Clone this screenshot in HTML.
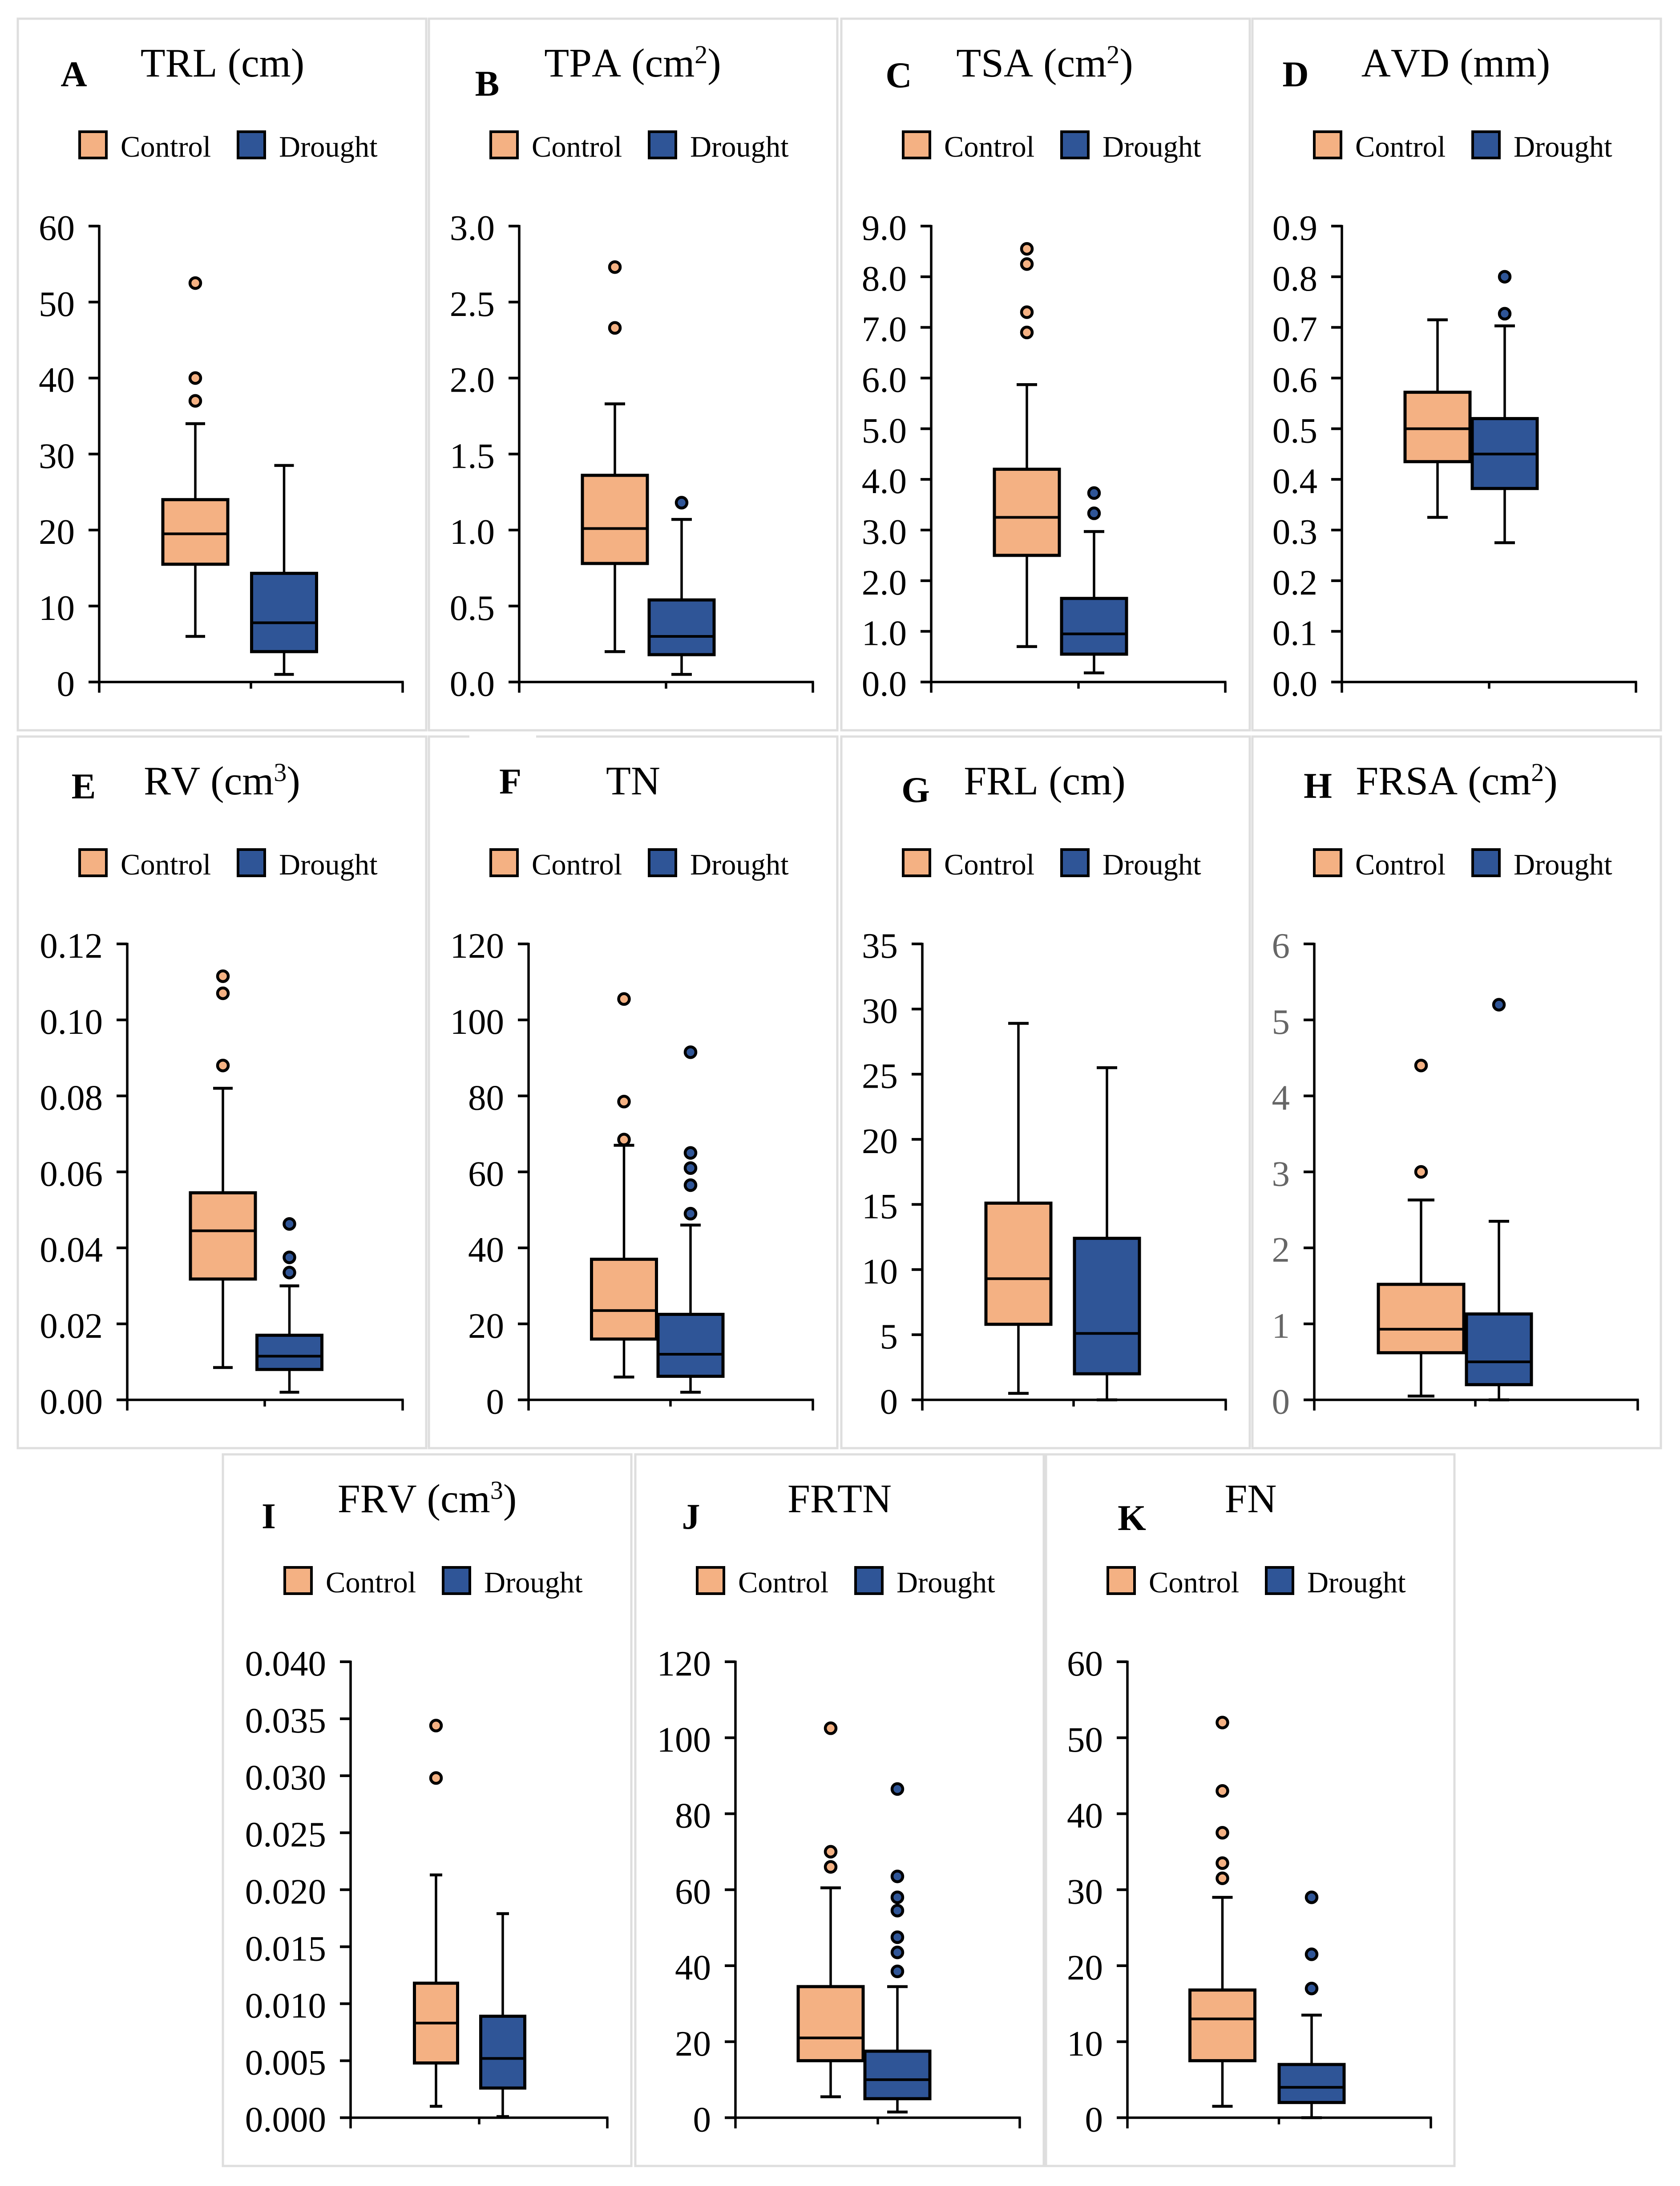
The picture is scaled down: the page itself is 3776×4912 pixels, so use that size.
<!DOCTYPE html>
<html>
<head>
<meta charset="utf-8">
<title>Root traits boxplots</title>
<style>
html,body{margin:0;padding:0;background:#fff;}
svg{display:block;font-family:"Liberation Serif",serif;font-kerning:none;}
.t{font-size:91.5px;text-anchor:middle;fill:#000;}
.l{font-size:82px;font-weight:bold;text-anchor:middle;fill:#000;}
.s{font-size:58px;}
</style>
</head>
<body>
<svg id="chart" width="3776" height="4912" viewBox="0 0 3776 4912" xmlns="http://www.w3.org/2000/svg">
<g id="frames"></g>
<rect x="1055" y="1650" width="150" height="10" fill="#fff"></rect>
<g>
<text class="t" x="500" y="172">TRL (cm)</text>
<text class="t" x="1422" y="172">TPA (cm<tspan class="s" dy="-30">2</tspan><tspan dy="30">)</tspan></text>
<text class="t" x="2348" y="172">TSA (cm<tspan class="s" dy="-30">2</tspan><tspan dy="30">)</tspan></text>
<text class="t" x="3272" y="172">AVD (mm)</text>
<text class="t" x="499" y="1785">RV (cm<tspan class="s" dy="-30">3</tspan><tspan dy="30">)</tspan></text>
<text class="t" x="1423" y="1785">TN</text>
<text class="t" x="2348" y="1785">FRL (cm)</text>
<text class="t" x="3274" y="1785">FRSA (cm<tspan class="s" dy="-30">2</tspan><tspan dy="30">)</tspan></text>
<text class="t" x="960" y="3398">FRV (cm<tspan class="s" dy="-30">3</tspan><tspan dy="30">)</tspan></text>
<text class="t" x="1887" y="3398">FRTN</text>
<text class="t" x="2811" y="3398">FN</text>
</g>
<g>
<text class="l" x="166" y="194">A</text>
<text class="l" x="1095" y="215">B</text>
<text class="l" x="2020" y="196">C</text>
<text class="l" x="2912" y="194">D</text>
<text class="l" x="188" y="1794">E</text>
<text class="l" x="1147" y="1783">F</text>
<text class="l" x="2058" y="1802">G</text>
<text class="l" x="2962" y="1793">H</text>
<text class="l" x="604" y="3434">I</text>
<text class="l" x="1553" y="3435">J</text>
<text class="l" x="2544" y="3438">K</text>
</g>
<g id="plots"></g>
</svg>
<script>
// ---------- data ----------
const categories = ['Control', 'Drought'];
const panelIds = ['a','b','c','d','e','f','g','h','i','j','k'];
const axisMax = [60, 3, 9, 0.9, 0.12, 120, 35, 6, 0.04, 120, 60];
const tickLabels = [
  ['0','10','20','30','40','50','60'],
  ['0.0','0.5','1.0','1.5','2.0','2.5','3.0'],
  ['0.0','1.0','2.0','3.0','4.0','5.0','6.0','7.0','8.0','9.0'],
  ['0.0','0.1','0.2','0.3','0.4','0.5','0.6','0.7','0.8','0.9'],
  ['0.00','0.02','0.04','0.06','0.08','0.10','0.12'],
  ['0','20','40','60','80','100','120'],
  ['0','5','10','15','20','25','30','35'],
  ['0','1','2','3','4','5','6'],
  ['0.000','0.005','0.010','0.015','0.020','0.025','0.030','0.035','0.040'],
  ['0','20','40','60','80','100','120'],
  ['0','10','20','30','40','50','60']
];
const whiskerLowControl  = [6, 0.2, 0.7, 0.325, 0.0085, 6, 0.5, 0.05, 0.001, 5.5, 1.5];
const q1Control          = [15.5, 0.78, 2.5, 0.435, 0.0318, 16, 5.8, 0.62, 0.0048, 15, 7.5];
const medianControl      = [19.5, 1.01, 3.25, 0.5, 0.0445, 23.5, 9.3, 0.93, 0.0083, 21, 13];
const q3Control          = [24, 1.36, 4.2, 0.572, 0.0545, 37, 15.1, 1.52, 0.0118, 34.5, 16.8];
const whiskerHighControl = [34, 1.83, 5.87, 0.715, 0.082, 67, 28.9, 2.63, 0.0213, 60.5, 29];
const outliersControl = [
  [37, 40, 52.5], [2.33, 2.73], [6.9, 7.3, 8.25, 8.55], [],
  [0.088, 0.107, 0.1115], [68.5, 78.5, 105.5], [], [3, 4.4],
  [0.0298, 0.0344], [66, 70, 102.5], [31.5, 33.5, 37.5, 43, 52]
];
const whiskerLowDrought  = [1, 0.05, 0.18, 0.275, 0.002, 2, 0, 0, 0.0001, 1.5, 0];
const q1Drought          = [4, 0.18, 0.55, 0.382, 0.008, 6.2, 2, 0.2, 0.0026, 5, 2];
const medianDrought      = [7.8, 0.3, 0.95, 0.45, 0.0115, 12, 5.1, 0.5, 0.0052, 10, 4];
const q3Drought          = [14.3, 0.54, 1.65, 0.52, 0.017, 22.5, 12.4, 1.13, 0.0089, 17.5, 7];
const whiskerHighDrought = [28.5, 1.07, 2.97, 0.703, 0.03, 46, 25.5, 2.35, 0.0179, 34.5, 13.5];
const outliersDrought = [
  [], [1.18], [3.33, 3.73], [0.727, 0.8],
  [0.0335, 0.0375, 0.0463], [49, 56.5, 61, 65, 91.5], [], [5.2],
  [], [38.5, 43.5, 47.5, 54.5, 58, 63.5, 86.5], [17, 21.5, 29]
];

// ---------- layout (pixels; not data) ----------
const layout = [
  {fx:40,  fy:42,   ax:223,  rx:905,  mid:564,  cx:[439,638.5],  w:[146,146], cap:[22,22], gray:false},
  {fx:964, fy:42,   ax:1167, rx:1827, mid:1497, cx:[1382,1532],  w:[146,146], cap:[23,23], gray:false},
  {fx:1891,fy:42,   ax:2093, rx:2754, mid:2424, cx:[2308,2459],  w:[146,146], cap:[23,23], gray:false},
  {fx:2815,fy:42,   ax:3016, rx:3677, mid:3347, cx:[3231,3382],  w:[146,146], cap:[23,23], gray:false},
  {fx:40,  fy:1655, ax:286,  rx:905,  mid:595,  cx:[501,650.5],  w:[146,146], cap:[22,22], gray:false},
  {fx:964, fy:1655, ax:1188, rx:1827, mid:1507, cx:[1402.5,1552],w:[146,146], cap:[23,23], gray:false},
  {fx:1891,fy:1655, ax:2073, rx:2755, mid:2413, cx:[2289,2488],  w:[146,146], cap:[23,23], gray:false},
  {fx:2815,fy:1655, ax:2954, rx:3681, mid:3316, cx:[3194,3369],  w:[192,146], cap:[30,23], gray:true},
  {fx:501, fy:3268, ax:788,  rx:1365, mid:1077, cx:[980,1130],   w:[97,99],   cap:[14,14], gray:false},
  {fx:1428,fy:3268, ax:1653, rx:2292, mid:1973, cx:[1867,2017],  w:[146,146], cap:[23,23], gray:false},
  {fx:2351,fy:3268, ax:2534, rx:3216, mid:2874.5, cx:[2747.5,2948], w:[146,146], cap:[23,23], gray:false}
];
const PANEL_W = 918, PANEL_H = 1599, AXIS_TOP = 466, AXIS_BOTTOM = 1490.5;
const fillColors = ['#F4B183', '#2F5597'];
const NS = 'http://www.w3.org/2000/svg';

function make(parent, tag, attrs) {
  const el = document.createElementNS(NS, tag);
  for (const k in attrs) el.setAttribute(k, attrs[k]);
  parent.appendChild(el);
  return el;
}
function hLine(parent, x1, x2, y, sw) {
  return make(parent, 'line', {x1: x1, x2: x2, y1: y, y2: y, stroke: '#000', 'stroke-width': sw});
}
function vLine(parent, x, y1, y2, sw) {
  return make(parent, 'line', {x1: x, x2: x, y1: y1, y2: y2, stroke: '#000', 'stroke-width': sw});
}

const frames = document.getElementById('frames');
const plots = document.getElementById('plots');

panelIds.forEach(function (id, p) {
  const L = layout[p];
  const frame = make(frames, 'rect', {x: L.fx, y: L.fy, width: PANEL_W, height: PANEL_H, fill: '#fff', stroke: '#dedede', 'stroke-width': 5});
  
  

  const g = make(plots, 'g', {});
  
  

  // axis functions
  const top = L.fy + AXIS_TOP, bottom = L.fy + AXIS_BOTTOM;
  const yScale = function (v) { return bottom - (v / axisMax[p]) * (bottom - top); };

  // legend
  const swatchOffsets = [139, 495];
  const labelOffsets = [231, 587];
  categories.forEach(function (name, c) {
    const sw = make(g, 'rect', {x: L.fx + swatchOffsets[c], y: L.fy + 254, width: 60, height: 59, fill: fillColors[c], stroke: '#000', 'stroke-width': 6});
    
    
    const tx = make(g, 'text', {x: L.fx + labelOffsets[c], y: L.fy + 310, 'font-size': 66.5, fill: '#000'});
    tx.textContent = name;
    
    
  });

  // axes
  const axes = make(g, 'g', {});
  
  
  const yAxis = vLine(axes, L.ax, top - 2.5, bottom + 24, 5.5);
  
  
  const xAxis = hLine(axes, L.ax - 24, L.rx + 2.5, bottom, 5.5);
  
  
  const xEnd = vLine(axes, L.rx, bottom, bottom + 24, 5.5);
  
  
  const xMid = vLine(axes, L.mid, bottom, bottom + 15, 5.5);
  
  

  const labels = tickLabels[p];
  labels.forEach(function (lab) {
    const val = parseFloat(lab);
    const y = yScale(val);
    const tick = hLine(axes, L.ax - 24, L.ax, y, 6);
    
    
    const t = make(axes, 'text', {x: L.ax - 55, y: y + 31, 'font-size': 81, 'text-anchor': 'end', fill: L.gray ? '#666' : '#000'});
    t.textContent = lab;
    
    
  });

  // boxes
  const stats = [
    [whiskerLowControl[p], q1Control[p], medianControl[p], q3Control[p], whiskerHighControl[p], outliersControl[p]],
    [whiskerLowDrought[p], q1Drought[p], medianDrought[p], q3Drought[p], whiskerHighDrought[p], outliersDrought[p]]
  ];
  stats.forEach(function (s, c) {
    const name = categories[c].toLowerCase();
    const cx = L.cx[c], w = L.w[c], cap = L.cap[c];
    const box = make(g, 'g', {});
    
    
    vLine(box, cx, yScale(s[0]), yScale(s[1]), 5.5);
    vLine(box, cx, yScale(s[3]), yScale(s[4]), 5.5);
    hLine(box, cx - cap, cx + cap, yScale(s[0]), 6.5);
    hLine(box, cx - cap, cx + cap, yScale(s[4]), 6.5);
    make(box, 'rect', {x: cx - w / 2, y: yScale(s[3]), width: w, height: yScale(s[1]) - yScale(s[3]), fill: fillColors[c], stroke: '#000', 'stroke-width': 7});
    hLine(box, cx - w / 2, cx + w / 2, yScale(s[2]), 6);
    s[5].forEach(function (v) {
      const pt = make(box, 'circle', {cx: cx, cy: yScale(v), r: 12, fill: fillColors[c], stroke: '#000', 'stroke-width': 6.5});
      
      
    });
  });
});
</script>
</body>
</html>
